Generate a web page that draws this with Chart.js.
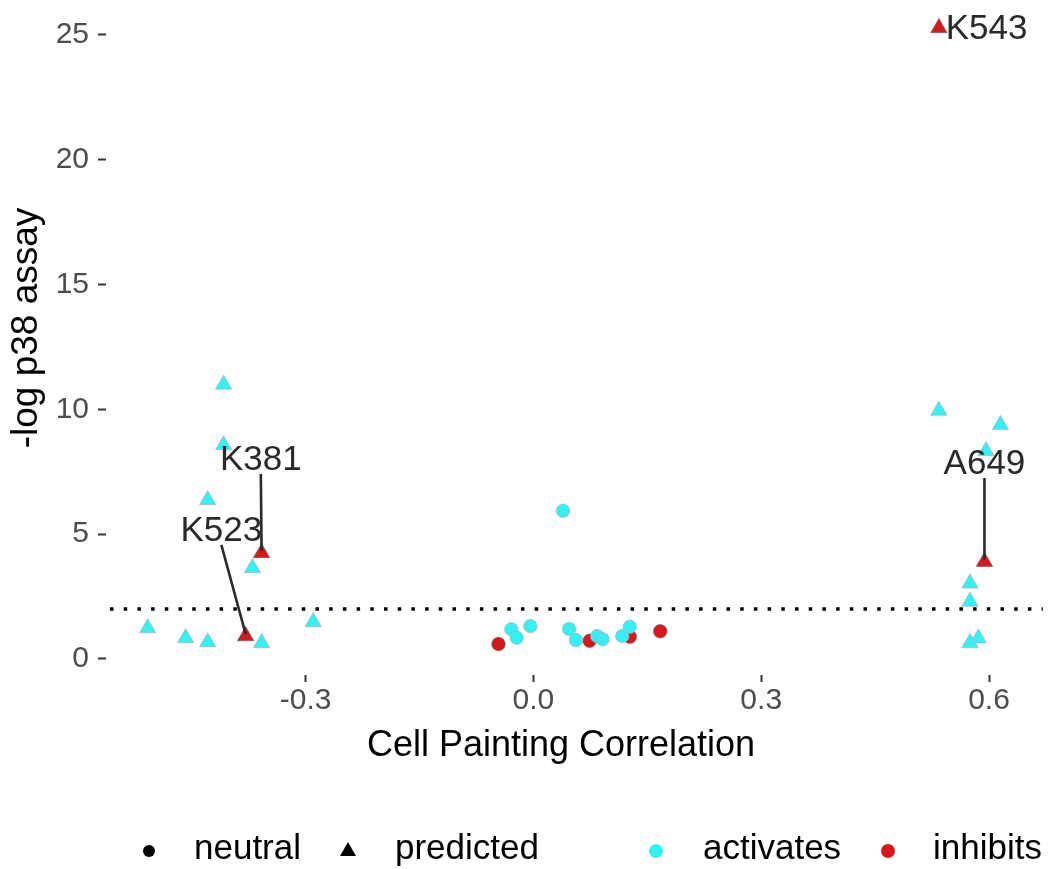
<!DOCTYPE html>
<html><head><meta charset="utf-8">
<script src="https://cdn.jsdelivr.net/npm/chart.js@4/dist/chart.umd.min.js"></script>
<style>html,body{margin:0;padding:0;background:#fff}canvas{display:block}</style>
</head><body>
<canvas id="c" width="1050" height="869"></canvas>
<script>
// ---- data ----
// neutral compounds (circles)
const neutralActX = [0.039, -0.029, -0.022, -0.004, 0.047, 0.056, 0.084, 0.091, 0.117, 0.127];
const neutralActY = [5.94, 1.19, 0.85, 1.32, 1.20, 0.76, 0.92, 0.79, 0.92, 1.29];
const neutralInhX = [-0.046, 0.074, 0.127, 0.167];
const neutralInhY = [0.60, 0.73, 0.89, 1.11];
// predicted compounds (triangles)
const predActX = [-0.508, -0.458, -0.429, -0.408, -0.408, -0.429, -0.370, -0.358, -0.290,
                  0.534, 0.615, 0.596, 0.575, 0.575, 0.586, 0.575];
const predActY = [1.24, 0.84, 0.68, 11.0, 8.57, 6.37, 3.65, 0.64, 1.48,
                  9.95, 9.38, 8.33, 3.03, 2.30, 0.83, 0.65];
const predInhNames = ['K543', 'K381', 'K523', 'A649'];
const predInhX = [0.534, -0.358, -0.379, 0.594];
const predInhY = [25.28, 4.25, 0.92, 3.90];
// label anchors (data units) for the named compounds
const labelX = [0.543, -0.359, -0.411, 0.594];
const labelY = [25.28, 8.01, 5.17, 7.85];
const labelAlign = ['left', 'center', 'center', 'center'];
const labelSegment = [false, true, true, true];
const threshold = 2;
const xTickValues = [-0.3, 0, 0.3, 0.6];
const xTickLabels = ['-0.3', '0.0', '0.3', '0.6'];
const yTickValues = [0, 5, 10, 15, 20, 25];
const yTickLabels = ['0', '5', '10', '15', '20', '25'];
const xTitle = 'Cell Painting Correlation';
const yTitle = '-log p38 assay';
const shapeLegend = ['neutral', 'predicted'];
const colorLegend = ['activates', 'inhibits'];

const CYAN = '#33F1F5';
const RED = '#D7191C';
const FONT = '"Liberation Sans", Arial, Helvetica, sans-serif';

const pts = (xs, ys) => xs.map((x, i) => ({x: x, y: ys[i]}));

const overlay = {
  id: 'overlay',
  afterDatasetsDraw(chart) {
    const {ctx, chartArea: a, scales: {x, y}} = chart;
    ctx.save();
    const ty = y.getPixelForValue(threshold);
    ctx.strokeStyle = '#000';
    ctx.lineWidth = 3.5;
    ctx.setLineDash([3.5, 10.2]);
    ctx.lineDashOffset = -4;
    ctx.beginPath(); ctx.moveTo(a.left, ty); ctx.lineTo(a.right + 3, ty); ctx.stroke();
    ctx.setLineDash([]);
    ctx.font = '35px ' + FONT;
    ctx.fillStyle = '#2a2a2a';
    ctx.strokeStyle = '#2a2a2a';
    ctx.lineWidth = 2.6;
    ctx.textBaseline = 'middle';
    predInhNames.forEach((name, i) => {
      const lx = x.getPixelForValue(labelX[i]);
      const ly = y.getPixelForValue(labelY[i]);
      if (labelSegment[i]) {
        const px = x.getPixelForValue(predInhX[i]);
        const py = y.getPixelForValue(predInhY[i]);
        ctx.beginPath(); ctx.moveTo(lx, ly + 15); ctx.lineTo(px, py - 2); ctx.stroke();
      }
      ctx.textAlign = labelAlign[i];
      ctx.fillText(name, lx, ly + 1);
    });
    ctx.restore();
  },
  afterDraw(chart) {
    const {ctx} = chart;
    ctx.save();
    ctx.fillStyle = '#000';
    ctx.font = '36px ' + FONT;
    ctx.textAlign = 'center';
    ctx.textBaseline = 'middle';
    ctx.fillText(xTitle, 561, 746);
    ctx.translate(27, 328);
    ctx.rotate(-Math.PI / 2);
    ctx.font = '37px ' + FONT;
    ctx.fillText(yTitle, 0, 0);
    ctx.restore();
    ctx.save();
    const ly = 849;
    ctx.font = '35px ' + FONT;
    ctx.textBaseline = 'middle';
    ctx.textAlign = 'left';
    ctx.fillStyle = '#000';
    ctx.beginPath(); ctx.arc(149, ly + 2, 6, 0, Math.PI * 2); ctx.fill();
    ctx.fillText(shapeLegend[0], 194, ly);
    ctx.beginPath(); ctx.moveTo(348, ly - 7); ctx.lineTo(356, ly + 7); ctx.lineTo(340, ly + 7); ctx.closePath(); ctx.fill();
    ctx.fillText(shapeLegend[1], 395, ly);
    ctx.fillStyle = CYAN;
    ctx.beginPath(); ctx.arc(656, ly + 2, 7, 0, Math.PI * 2); ctx.fill();
    ctx.fillStyle = RED;
    ctx.beginPath(); ctx.arc(888, ly + 2, 7, 0, Math.PI * 2); ctx.fill();
    ctx.fillStyle = '#000';
    ctx.fillText(colorLegend[0], 703, ly);
    ctx.fillText(colorLegend[1], 933, ly);
    ctx.restore();
  }
};

new Chart(document.getElementById('c'), {
  type: 'scatter',
  data: {
    datasets: [
      {label: 'neutral activates', data: pts(neutralActX, neutralActY), pointStyle: 'circle', pointRadius: 6.8,
       backgroundColor: CYAN, borderColor: 'rgba(225,140,140,0.7)', borderWidth: 0.7},
      {label: 'predicted activates', data: pts(predActX, predActY), pointStyle: 'triangle', pointRadius: 9.5,
       backgroundColor: CYAN, borderColor: 'rgba(225,140,140,0.7)', borderWidth: 0.7},
      {label: 'neutral inhibits', data: pts(neutralInhX, neutralInhY), pointStyle: 'circle', pointRadius: 6.8,
       backgroundColor: RED, borderColor: 'rgba(60,110,110,0.8)', borderWidth: 0.7},
      {label: 'predicted inhibits', data: pts(predInhX, predInhY), pointStyle: 'triangle', pointRadius: 9.5,
       backgroundColor: RED, borderColor: 'rgba(60,110,110,0.8)', borderWidth: 0.7}
    ]
  },
  options: {
    responsive: false,
    animation: false,
    devicePixelRatio: 1,
    events: [],
    layout: {padding: 0},
    plugins: {legend: {display: false}, tooltip: {enabled: false}},
    scales: {
      x: {
        type: 'linear', min: -0.5629, max: 0.6669,
        afterBuildTicks: s => { s.ticks = xTickValues.map(v => ({value: v})); },
        afterFit: s => { s.height = 194; s.paddingLeft = 0; s.paddingRight = 0; },
        grid: {display: true, drawOnChartArea: false, drawTicks: true, tickLength: 7, tickColor: '#333', tickWidth: 2},
        border: {display: false},
        ticks: {
          padding: 1, color: '#4D4D4D', font: {size: 30, family: FONT}, maxRotation: 0,
          callback: (v, i) => xTickLabels[i]
        }
      },
      y: {
        type: 'linear', min: -0.641, max: 25.99,
        afterBuildTicks: s => { s.ticks = yTickValues.map(v => ({value: v})); },
        afterFit: s => { s.width = 106; s.paddingTop = 0; s.paddingBottom = 0; },
        grid: {display: true, drawOnChartArea: false, drawTicks: true, tickLength: 8, tickColor: '#333', tickWidth: 2},
        border: {display: false},
        ticks: {
          padding: 9, color: '#4D4D4D', font: {size: 30, family: FONT},
          callback: (v, i) => yTickLabels[i]
        }
      }
    }
  },
  plugins: [overlay]
});
</script>
</body></html>
